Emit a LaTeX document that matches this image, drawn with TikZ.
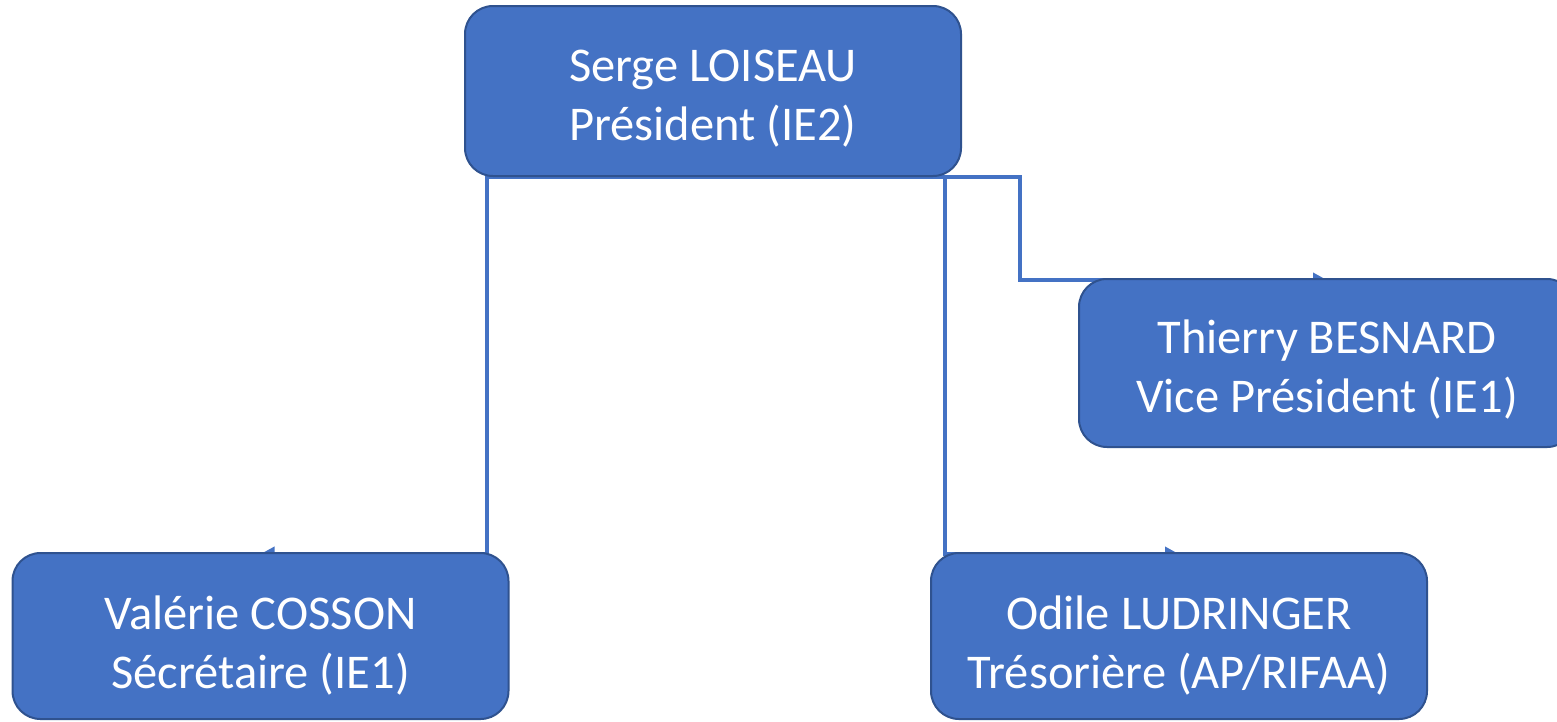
\documentclass[tikz,border=0pt]{standalone}
\usepackage{fontspec}
\setmainfont{Carlito}
\usetikzlibrary{arrows.meta,backgrounds}
\definecolor{boxfill}{HTML}{4472C4}
\definecolor{boxline}{HTML}{2F528F}
\newcommand{\twolines}[3]{\raisebox{#1}[\height][\depth]{\begin{tabular}{@{}c@{}}#2\\#3\end{tabular}}}
\begin{document}
\begin{tikzpicture}[x=1pt,y=-1pt,
  person/.style={draw=boxline, line width=2pt, fill=boxfill, rounded corners=28pt,
    minimum width=496pt, minimum height=170pt, inner sep=0pt, text=white, align=center,
    font=\fontsize{48.5}{59}\selectfont},
  conn/.style={draw=boxfill, line width=4.5pt, -{Triangle[length=14pt,width=14pt]}}]
\useasboundingbox (0,0) rectangle (1557,721);
\node[person] (S) at (713,91) {\twolines{-8pt}{Serge LOISEAU}{Président (IE2)}};
\node[person, minimum height=168pt] (V) at (1327,363) {\twolines{-8pt}{Thierry BESNARD}{Vice Président (IE1)}};
\node[person, minimum height=166pt] (C) at (260.5,636) {\twolines{-11pt}{Valérie COSSON}{Sécrétaire (IE1)}};
\node[person, minimum height=166pt] (L) at (1179,636) {\twolines{-11pt}{Odile LUDRINGER}{Trésorière (AP/RIFAA)}};
\begin{scope}[on background layer]
\fill[white] (0,0) rectangle (1557,721);
\draw[conn] (S.south) -- ++(-226,0) |- ([yshift=-2pt]C.north);
\draw[conn] (S.south) -- ++(232,0) |- ([yshift=-2pt]L.north);
\draw[conn] (S.south) -- ++(307,0) |- ([yshift=-2pt]V.north);
\end{scope}
\end{tikzpicture}
\end{document}
